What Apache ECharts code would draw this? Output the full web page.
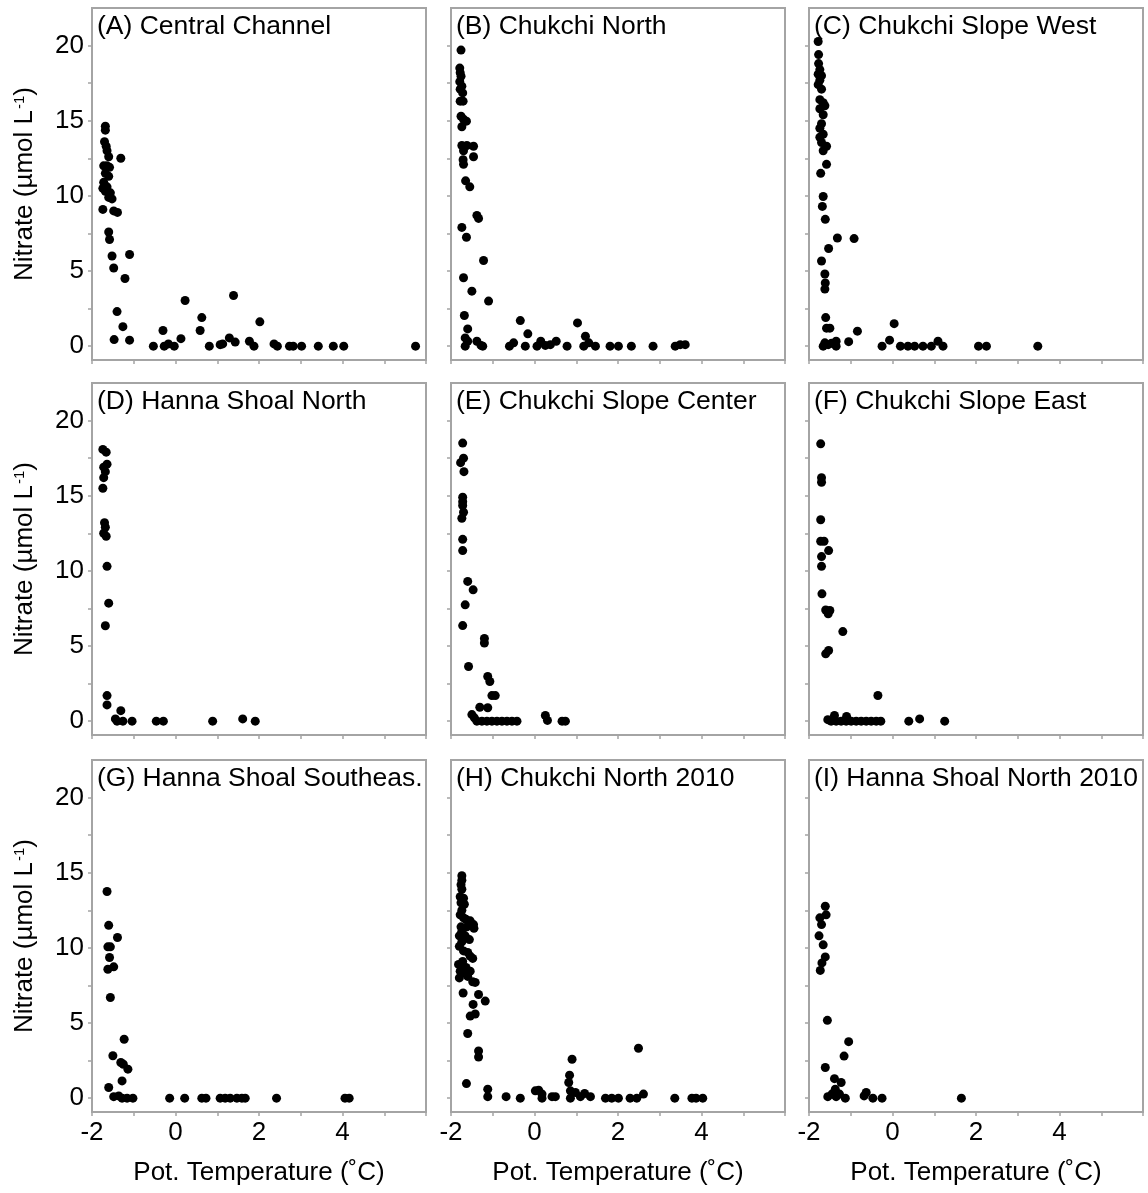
<!DOCTYPE html>
<html>
<head>
<meta charset="utf-8">
<script src="https://cdn.jsdelivr.net/npm/echarts@6/dist/echarts.min.js"></script>
<style>
html,body{margin:0;padding:0;background:#fff;}
#chart{width:1148px;height:1193px;}
</style>
</head>
<body>
<div id="chart"></div>
<script>
// ---- Data (Pot. Temperature °C, Nitrate µmol/L) ----
const panelTitles = [
  "(A) Central Channel", "(B) Chukchi North", "(C) Chukchi Slope West",
  "(D) Hanna Shoal North", "(E) Chukchi Slope Center", "(F) Chukchi Slope East",
  "(G) Hanna Shoal Southeas.", "(H) Chukchi North 2010", "(I) Hanna Shoal North 2010"
];
const xTickLabels = [-2, 0, 2, 4];
const yTickLabels = [0, 5, 10, 15, 20];
const yMinorTicks = [0, 2.5, 5, 7.5, 10, 12.5, 15, 17.5, 20];

const dataA = [
  [-1.68,14.63],[-1.68,14.37],[-1.7,13.6],[-1.66,13.3],[-1.64,13.0],[-1.6,12.6],[-1.72,12.0],[-1.64,12.0],
  [-1.58,11.9],[-1.68,11.5],[-1.6,11.3],[-1.72,10.9],[-1.64,10.6],[-1.74,10.5],[-1.56,10.2],[-1.68,10.3],
  [-1.6,9.9],[-1.52,9.8],[-1.74,9.1],[-1.48,9.0],[-1.39,8.9],[-1.31,12.5],[-1.6,7.6],[-1.58,7.1],
  [-1.52,6.0],[-1.48,5.2],[-1.1,6.1],[-1.21,4.5],[-1.4,2.3],[-1.26,1.3],[-1.47,0.44],[-1.1,0.4],
  [-0.53,0],[-0.3,1.04],[-0.27,0],[-0.17,0.15],[-0.03,0],[0.13,0.5],[0.23,3.04],[0.59,1.04],
  [0.63,1.9],[0.81,0],[1.07,0.1],[1.13,0.15],[1.29,0.55],[1.39,3.37],[1.43,0.27],[1.77,0.33],
  [1.88,0],[2.02,1.62],[2.36,0.15],[2.44,0],[2.73,0],[2.82,0],[3.02,0],[3.42,0],[3.78,0],[4.03,0],[5.75,0]
];
const dataB = [
  [-1.76,19.7],[-1.79,18.5],[-1.78,18.2],[-1.76,17.96],[-1.79,17.6],[-1.74,17.3],[-1.78,17.1],[-1.72,16.85],
  [-1.78,16.3],[-1.71,16.3],[-1.76,15.3],[-1.7,15.1],[-1.63,14.97],[-1.74,14.6],[-1.74,13.35],[-1.62,13.35],
  [-1.46,13.3],[-1.7,13.0],[-1.46,12.6],[-1.71,12.4],[-1.7,12.1],[-1.65,11.0],[-1.55,10.6],[-1.38,8.7],
  [-1.34,8.5],[-1.74,7.9],[-1.63,7.25],[-1.22,5.7],[-1.7,4.55],[-1.5,3.66],[-1.1,3.0],[-1.68,2.04],
  [-1.6,1.15],[-1.66,0.55],[-1.6,0.33],[-1.66,0],[-1.38,0.33],[-1.28,0.05],[-1.24,0],[-0.6,0],
  [-0.5,0.22],[-0.22,0],[-0.34,1.7],[-0.16,0.82],[0.06,0],[0.15,0.33],[0.26,0.05],[0.38,0.1],
  [0.52,0.33],[0.78,0],[1.03,1.55],[1.22,0.66],[1.18,0],[1.3,0.22],[1.46,0],[1.81,0],[2.01,0],
  [2.32,0],[2.84,0],[3.37,0],[3.49,0.1],[3.61,0.1]
];
const dataC = [
  [-1.78,20.27],[-1.77,19.4],[-1.77,18.8],[-1.74,18.4],[-1.78,18.1],[-1.7,18.0],[-1.74,17.7],[-1.78,17.4],
  [-1.7,17.1],[-1.74,16.4],[-1.66,16.2],[-1.62,16.0],[-1.74,15.8],[-1.66,15.4],[-1.7,14.8],[-1.74,14.5],
  [-1.66,14.1],[-1.74,13.9],[-1.7,13.55],[-1.58,13.3],[-1.66,13.0],[-1.58,12.1],[-1.72,11.5],[-1.66,9.96],
  [-1.68,9.3],[-1.61,8.44],[-1.32,7.2],[-0.92,7.16],[-1.53,6.5],[-1.7,5.67],[-1.62,4.8],[-1.61,4.2],
  [-1.62,3.8],[-1.6,1.9],[-1.58,1.2],[-1.5,1.2],[-1.62,0.22],[-1.54,0.1],[-1.46,0.2],[-1.35,0.33],
  [-1.66,0],[-1.35,0],[-1.05,0.3],[-0.84,1.0],[-0.25,0],[-0.07,0.4],[0.04,1.5],[0.19,0],[0.37,0],
  [0.53,0],[0.73,0],[0.93,0],[1.09,0.33],[1.21,0],[2.06,0],[2.25,0],[3.48,0]
];
const dataD = [
  [-1.74,18.08],[-1.66,17.9],[-1.64,17.1],[-1.72,16.9],[-1.68,16.6],[-1.72,16.2],[-1.74,15.5],[-1.7,13.2],
  [-1.68,12.9],[-1.72,12.5],[-1.66,12.3],[-1.64,10.3],[-1.6,7.85],[-1.68,6.35],[-1.64,1.7],[-1.64,1.08],
  [-1.44,0.15],[-1.4,0],[-1.31,0.7],[-1.26,0],[-1.04,0],[-0.46,0],[-0.29,0],[0.89,0],[1.61,0.15],[1.91,0]
];
const dataE = [
  [-1.72,18.5],[-1.7,17.5],[-1.77,17.2],[-1.69,16.6],[-1.72,14.9],[-1.72,14.6],[-1.72,14.35],[-1.7,13.9],
  [-1.74,13.5],[-1.72,12.1],[-1.72,11.35],[-1.6,9.3],[-1.47,8.74],[-1.66,7.74],[-1.72,6.36],[-1.2,5.5],
  [-1.2,5.2],[-1.58,3.64],[-1.12,2.97],[-1.07,2.64],[-1.02,1.7],[-0.94,1.7],[-1.31,0.93],[-1.12,0.89],
  [-1.5,0.44],[-1.44,0.22],[-1.38,0],[-1.26,0],[-1.14,0],[-1.02,0],[-0.9,0],[-0.78,0],[-0.66,0],
  [-0.54,0],[-0.42,0],[0.26,0.38],[0.31,0.05],[0.66,0],[0.74,0]
];
const dataF = [
  [-1.72,18.45],[-1.7,16.2],[-1.7,15.9],[-1.72,13.4],[-1.72,11.97],[-1.64,11.97],[-1.53,11.35],[-1.7,10.95],
  [-1.7,10.3],[-1.69,8.47],[-1.6,7.4],[-1.5,7.36],[-1.54,7.14],[-1.19,5.96],[-1.6,4.48],[-1.53,4.7],
  [-0.35,1.71],[-1.55,0.1],[-1.39,0.38],[-1.1,0.31],[-1.47,0],[-1.35,0],[-1.23,0],[-1.11,0],[-0.99,0],
  [-0.87,0],[-0.75,0],[-0.63,0],[-0.51,0],[-0.39,0],[-0.28,0],[0.39,0],[0.65,0.15],[1.25,0]
];
const dataG = [
  [-1.64,13.75],[-1.6,11.5],[-1.62,10.07],[-1.56,10.07],[-1.58,9.36],[-1.39,10.69],[-1.62,8.58],[-1.48,8.74],
  [-1.56,6.7],[-1.5,2.82],[-1.23,3.92],[-1.31,2.37],[-1.25,2.26],[-1.14,1.93],[-1.28,1.15],[-1.6,0.71],
  [-1.48,0.1],[-1.36,0.15],[-1.28,0],[-1.16,0],[-1.02,0],[-0.14,0],[0.22,0],[0.63,0],[0.73,0],[1.07,0],
  [1.19,0],[1.31,0],[1.47,0],[1.59,0],[1.67,0],[2.42,0],[4.06,0],[4.16,0]
];
const dataH = [
  [-1.74,14.8],[-1.74,14.5],[-1.76,14.2],[-1.74,13.9],[-1.78,13.4],[-1.7,13.3],[-1.76,13.0],[-1.68,12.9],
  [-1.74,12.5],[-1.78,12.2],[-1.7,12.0],[-1.64,11.9],[-1.54,11.8],[-1.46,11.55],[-1.76,11.4],[-1.62,11.4],
  [-1.45,11.3],[-1.74,11.1],[-1.66,10.8],[-1.8,10.8],[-1.74,10.4],[-1.56,10.55],[-1.8,10.1],[-1.7,9.8],
  [-1.6,9.7],[-1.54,9.45],[-1.48,9.3],[-1.72,9.1],[-1.82,8.9],[-1.64,8.7],[-1.78,8.45],[-1.7,8.34],
  [-1.54,8.45],[-1.8,8.0],[-1.6,8.1],[-1.48,7.74],[-1.42,7.7],[-1.71,7.0],[-1.34,6.9],[-1.18,6.46],
  [-1.47,6.24],[-1.54,5.46],[-1.42,5.6],[-1.6,4.3],[-1.34,3.14],[-1.34,2.74],[-1.63,0.97],[-1.12,0.6],
  [-1.12,0.1],[-0.68,0.1],[-0.34,0],[0.02,0.49],[0.1,0.53],[0.18,0.27],[0.18,0],[0.42,0.1],[0.5,0.1],
  [0.82,1.04],[0.84,1.53],[0.9,2.59],[0.86,0.49],[0.86,0],[0.98,0.38],[1.1,0.1],[1.2,0.31],[1.34,0.1],
  [1.7,0],[1.85,0],[2.01,0],[2.29,0],[2.45,0],[2.61,0.27],[2.49,3.32],[3.36,0],[3.77,0],[3.87,0],[4.03,0]
];
const dataI = [
  [-1.61,12.77],[-1.59,12.2],[-1.74,12.0],[-1.7,11.55],[-1.76,10.8],[-1.66,10.2],[-1.61,9.4],[-1.69,9.0],
  [-1.73,8.5],[-1.56,5.18],[-1.05,3.76],[-1.16,2.8],[-1.61,2.04],[-1.39,1.3],[-1.23,1.04],[-1.37,0.6],
  [-1.55,0.1],[-1.45,0.27],[-1.35,0.1],[-1.27,0.27],[-1.13,0],[-0.68,0.15],[-0.63,0.38],[-0.47,0],
  [-0.25,0],[1.65,0]
];
const panelData = [dataA, dataB, dataC, dataD, dataE, dataF, dataG, dataH, dataI];

// ---- Layout ----
const colLeft = [92, 451, 809];
const rowTop = [8, 383, 760];
const W = 334, H = 352;
const frameColor = '#a4a4a4';
const fontFam = '"Liberation Sans", Arial, Helvetica, sans-serif';

const grids = [], xAxes = [], yAxes = [], series = [], titles = [];
for (let i = 0; i < 9; i++) {
  const r = Math.floor(i / 3), c = i % 3;
  grids.push({left: colLeft[c], top: rowTop[r], width: W, height: H,
    show: true, borderColor: frameColor, borderWidth: 2, backgroundColor: 'transparent'});
  xAxes.push({
    type: 'value', gridIndex: i, min: -2, max: 6, interval: 1,
    axisLine: {show: true, onZero: false, lineStyle: {color: frameColor, width: 2}},
    axisTick: {show: true, length: 4, lineStyle: {color: frameColor, width: 1.5}},
    axisLabel: {show: r === 2, customValues: xTickLabels, fontSize: 26, color: '#000',
      margin: 8, fontFamily: fontFam},
    splitLine: {show: false},
    name: r === 2 ? 'Pot. Temperature (˚C)' : '',
    nameLocation: 'middle', nameGap: 48,
    nameTextStyle: {fontSize: 26, color: '#000', fontFamily: fontFam}
  });
  yAxes.push({
    type: 'value', gridIndex: i, min: -0.92, max: 22.5,
    axisLine: {show: true, onZero: false, lineStyle: {color: frameColor, width: 2}},
    axisTick: {show: true, length: 4, customValues: yMinorTicks, lineStyle: {color: frameColor, width: 1.5}},
    axisLabel: {show: c === 0, customValues: yTickLabels, fontSize: 26, color: '#000',
      margin: 8, fontFamily: fontFam},
    splitLine: {show: false},
    name: c === 0 ? 'Nitrate (µmol L{s|-1})' : '',
    nameLocation: 'middle', nameGap: 54,
    nameTextStyle: {fontSize: 26, color: '#000', fontFamily: fontFam,
      rich: {s: {fontSize: 15, verticalAlign: 'top', color: '#000', fontFamily: fontFam, padding: [0, 0, 10, 1]}}}
  });
  series.push({
    type: 'scatter', xAxisIndex: i, yAxisIndex: i, data: panelData[i],
    symbol: 'circle', symbolSize: 9, itemStyle: {color: '#000', opacity: 1}, silent: true
  });
  titles.push({
    text: panelTitles[i], left: colLeft[c] + 5, top: rowTop[r] + 4, padding: 0,
    textStyle: {fontSize: 26.5, fontWeight: 'normal', color: '#000', fontFamily: fontFam, lineHeight: 30}
  });
}

const chart = echarts.init(document.getElementById('chart'), null, {renderer: 'canvas'});
chart.setOption({
  animation: false,
  backgroundColor: '#fff',
  title: titles,
  grid: grids,
  xAxis: xAxes,
  yAxis: yAxes,
  series: series
});
</script>
</body>
</html>
